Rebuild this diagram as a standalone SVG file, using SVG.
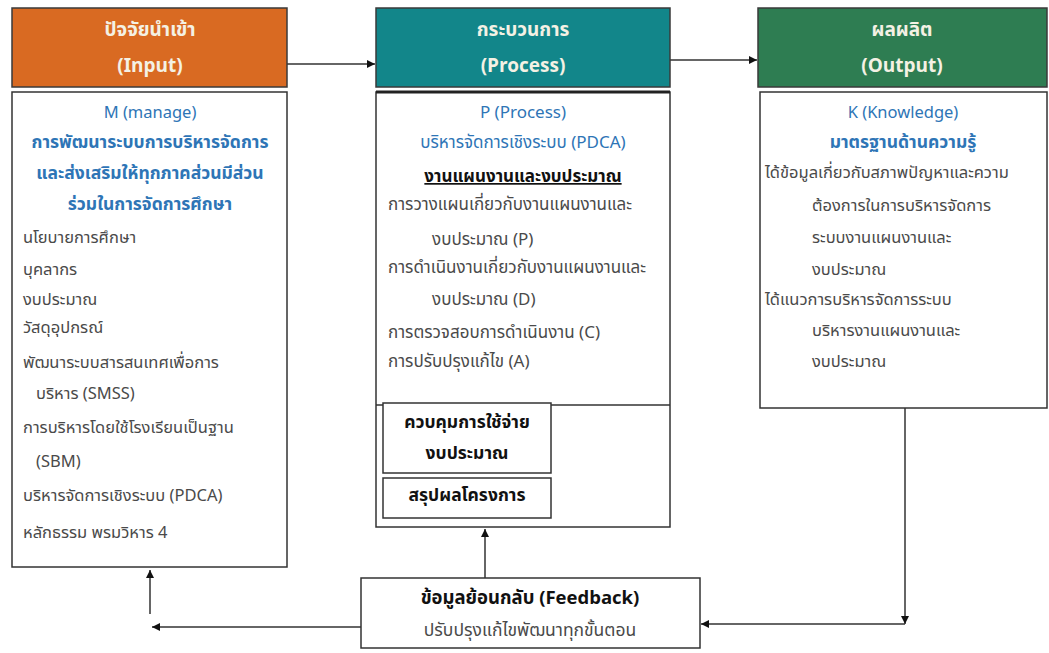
<svg xmlns="http://www.w3.org/2000/svg" width="1049" height="653" viewBox="0 0 1049 653">
<defs>
<style>
.hdr{stroke:#3a3a3a;stroke-width:1.5}
.box{fill:#fff;stroke:#333;stroke-width:1.5}
.ht{font-family:"Noto Sans Thai","Leelawadee UI","Noto Sans","DejaVu Sans",sans-serif;font-size:19px;font-weight:bold;fill:#f4f1e4;text-anchor:middle}
.t{font-family:"Noto Sans Thai","Leelawadee UI","Noto Sans","DejaVu Sans",sans-serif;font-size:16.5px;fill:#4a4a4a}
.p{font-size:17px}
.b{fill:#2e75b6;text-anchor:middle}
.bb{fill:#2e75b6;text-anchor:middle;font-weight:bold;font-size:17.5px}
.k{fill:#111;text-anchor:middle;font-weight:bold}
.ik{font-size:17.5px}
.c{text-anchor:middle}
.ln{fill:none;stroke:#333;stroke-width:1.5}
</style>
<marker id="ah" viewBox="0 0 10 10" refX="10" refY="5" markerWidth="8" markerHeight="8" markerUnits="userSpaceOnUse" orient="auto">
<path d="M0,0 L10,5 L0,10 z" fill="#111"/>
</marker>
</defs>

<g id="connectors">
<line class="ln" x1="287" y1="64" x2="375" y2="64" marker-end="url(#ah)"/>
<line class="ln" x1="670" y1="60" x2="757" y2="60" marker-end="url(#ah)"/>
<line class="ln" x1="905" y1="408" x2="905" y2="624" marker-end="url(#ah)"/>
<line class="ln" x1="905" y1="624" x2="701" y2="624" marker-end="url(#ah)"/>
<line class="ln" x1="485" y1="578" x2="485" y2="529" marker-end="url(#ah)"/>
<line class="ln" x1="361" y1="627" x2="152" y2="627" marker-end="url(#ah)"/>
<line class="ln" x1="150" y1="614" x2="150" y2="570" marker-end="url(#ah)"/>
</g>

<g id="input-header">
<rect class="hdr" x="12" y="8" width="275" height="79" fill="#d96a22"/>
<text class="ht" x="150" y="36">ปัจจัยนำเข้า</text>
<text class="ht" x="150" y="72">(Input)</text>
</g>

<g id="process-header">
<rect class="hdr" x="376" y="8" width="294" height="79" fill="#12868a"/>
<text class="ht" x="523" y="36">กระบวนการ</text>
<text class="ht" x="523" y="72">(Process)</text>
</g>

<g id="output-header">
<rect class="hdr" x="758" y="8" width="289" height="79" fill="#2e7d52"/>
<text class="ht" x="902" y="36">ผลผลิต</text>
<text class="ht" x="902" y="72">(Output)</text>
</g>

<g id="input-body">
<rect class="box" x="12" y="92" width="275" height="475"/>
<g class="t">
<text class="b" x="150" y="118">M (manage)</text>
<text class="bb" x="150" y="148">การพัฒนาระบบการบริหารจัดการ</text>
<text class="bb" x="150" y="179">และส่งเสริมให้ทุกภาคส่วนมีส่วน</text>
<text class="bb" x="150" y="210">ร่วมในการจัดการศึกษา</text>
<text x="23" y="243">นโยบายการศึกษา</text>
<text x="23" y="275">บุคลากร</text>
<text x="23" y="305">งบประมาณ</text>
<text x="23" y="333">วัสดุอุปกรณ์</text>
<text x="23" y="368">พัฒนาระบบสารสนเทศเพื่อการ</text>
<text x="36" y="399">บริหาร  (SMSS)</text>
<text x="23" y="433">การบริหารโดยใช้โรงเรียนเป็นฐาน</text>
<text x="36" y="467">(SBM)</text>
<text x="23" y="501">บริหารจัดการเชิงระบบ (PDCA)</text>
<text x="23" y="538">หลักธรรม พรมวิหาร 4</text>
</g>
</g>

<g id="process-body">
<rect class="box" x="376" y="92" width="294" height="435"/>
<line x1="376" y1="92" x2="670" y2="92" stroke="#222" stroke-width="3"/>
<line class="ln" x1="376" y1="405" x2="670" y2="405"/>
<g class="t p">
<text class="b" x="523" y="118">P (Process)</text>
<text class="b" x="523" y="148">บริหารจัดการเชิงระบบ (PDCA)</text>
<text class="k" x="523" y="182" text-decoration="underline">งานแผนงานและงบประมาณ</text>
<text x="388" y="210">การวางแผนเกี่ยวกับงานแผนงานและ</text>
<text x="432" y="245">งบประมาณ (P)</text>
<text x="388" y="273">การดำเนินงานเกี่ยวกับงานแผนงานและ</text>
<text x="432" y="305">งบประมาณ (D)</text>
<text x="388" y="338">การตรวจสอบการดำเนินงาน (C)</text>
<text x="388" y="367">การปรับปรุงแก้ไข (A)</text>
</g>
</g>

<g id="control-box">
<rect class="box" x="383" y="403" width="168" height="70"/>
<text class="t k ik" x="467" y="428">ควบคุมการใช้จ่าย</text>
<text class="t k ik" x="467" y="459">งบประมาณ</text>
</g>

<g id="summary-box">
<rect class="box" x="383" y="478" width="168" height="40"/>
<text class="t k ik" x="467" y="501">สรุปผลโครงการ</text>
</g>

<g id="output-body">
<rect class="box" x="760" y="92" width="287" height="316"/>
<g class="t">
<text class="b" x="903" y="118">K (Knowledge)</text>
<text class="bb" x="903" y="148">มาตรฐานด้านความรู้</text>
<text x="765" y="178">ได้ข้อมูลเกี่ยวกับสภาพปัญหาและความ</text>
<text x="812" y="211">ต้องการในการบริหารจัดการ</text>
<text x="812" y="243">ระบบงานแผนงานและ</text>
<text x="812" y="275">งบประมาณ</text>
<text x="765" y="305">ได้แนวการบริหารจัดการระบบ</text>
<text x="812" y="336">บริหารงานแผนงานและ</text>
<text x="812" y="367">งบประมาณ</text>
</g>
</g>

<g id="feedback">
<rect class="box" x="361" y="578" width="339" height="70"/>
<text class="t k" x="530" y="604" style="font-size:18.5px">ข้อมูลย้อนกลับ (Feedback)</text>
<text class="t c" x="530" y="636" style="font-size:17.5px">ปรับปรุงแก้ไขพัฒนาทุกขั้นตอน</text>
</g>
</svg>
